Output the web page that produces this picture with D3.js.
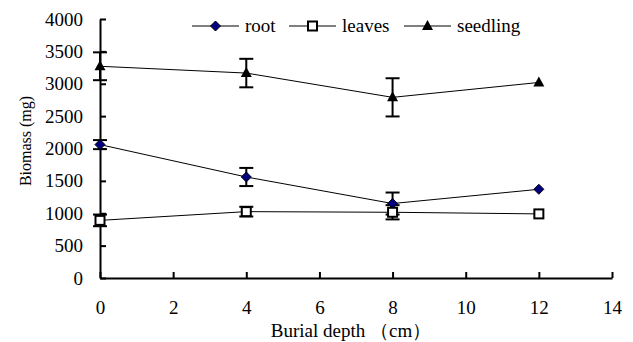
<!DOCTYPE html>
<html>
<head>
<meta charset="utf-8">
<script src="https://cdn.jsdelivr.net/npm/d3@7"></script>
<style>
  body { margin: 0; background: #fff; }
  text { font-family: "Liberation Serif", "Times New Roman", serif; fill: #000; }
</style>
</head>
<body>
<div id="chart"></div>
<script>
const depths = [0, 4, 8, 12];
const rootMean = [2060, 1560, 1150, 1370];
const rootErr = [70, 140, 170, 0];
const leavesMean = [890, 1025, 1015, 990];
const leavesErr = [90, 75, 110, 0];
const seedlingMean = [3270, 3165, 2790, 3020];
const seedlingErr = [215, 220, 295, 0];
const xTicks = [0, 2, 4, 6, 8, 10, 12, 14];
const yTicks = [0, 500, 1000, 1500, 2000, 2500, 3000, 3500, 4000];

const series = [
  {name: "root", mean: rootMean, err: rootErr, shape: "diamond"},
  {name: "leaves", mean: leavesMean, err: leavesErr, shape: "square"},
  {name: "seedling", mean: seedlingMean, err: seedlingErr, shape: "triangle"}
];

const W = 633, H = 342;
const margin = {top: 19, right: 21, bottom: 64, left: 100};
const width = W - margin.left - margin.right;
const height = H - margin.top - margin.bottom;
const serif = "'Liberation Serif', 'Times New Roman', serif";

const svg = d3.select("#chart").append("svg")
  .attr("width", W).attr("height", H);
const g = svg.append("g")
  .attr("transform", `translate(${margin.left},${margin.top})`);

const x = d3.scaleLinear().domain([0, 14]).range([0, width]);
const y = d3.scaleLinear().domain([0, 4000]).range([height, 0]);

// axes, ticks pointing inward
const xAxis = g.append("g")
  .attr("transform", `translate(0,${height})`)
  .call(d3.axisBottom(x).tickValues(xTicks).tickFormat(d3.format("d"))
    .tickSizeInner(-6).tickSizeOuter(0).tickPadding(23));
const yAxis = g.append("g")
  .call(d3.axisLeft(y).tickValues(yTicks).tickFormat(d3.format("d"))
    .tickSizeInner(-6).tickSizeOuter(0).tickPadding(17));
[xAxis, yAxis].forEach(a => {
  a.attr("font-family", serif).attr("font-size", 19);
  a.select(".domain").attr("stroke", "#000").attr("stroke-width", 2);
  a.selectAll(".tick line").attr("stroke", "#000").attr("stroke-width", 2);
  a.selectAll(".tick text").attr("fill", "#000");
});

// lines
const line = d3.line().x((d, i) => x(depths[i])).y(d => y(d));
series.forEach(s => {
  g.append("path").datum(s.mean)
    .attr("d", line).attr("fill", "none")
    .attr("stroke", "#000").attr("stroke-width", 1);
});

// error bars
series.forEach(s => {
  const eb = g.append("g");
  s.mean.forEach((m, i) => {
    if (!s.err[i]) return;
    const cx = x(depths[i]);
    const y1 = y(m + s.err[i]), y0 = y(m - s.err[i]);
    eb.append("line").attr("x1", cx).attr("x2", cx).attr("y1", y1).attr("y2", y0)
      .attr("stroke", "#000").attr("stroke-width", 2);
    [y1, y0].forEach(yy => eb.append("line")
      .attr("x1", cx - 7).attr("x2", cx + 7).attr("y1", yy).attr("y2", yy)
      .attr("stroke", "#000").attr("stroke-width", 2));
  });
});

function drawMarker(sel, shape, cx, cy) {
  if (shape === "diamond") {
    sel.append("path").attr("d", `M${cx},${cy - 5}L${cx + 5},${cy}L${cx},${cy + 5}L${cx - 5},${cy}Z`)
      .attr("fill", "#000080").attr("stroke", "#000").attr("stroke-width", 1);
  } else if (shape === "square") {
    sel.append("rect").attr("x", cx - 4.5).attr("y", cy - 4.5).attr("width", 9).attr("height", 9)
      .attr("fill", "#fff").attr("stroke", "#000").attr("stroke-width", 2);
  } else {
    sel.append("path").attr("d", `M${cx},${cy - 6}L${cx + 5.5},${cy + 4}L${cx - 5.5},${cy + 4}Z`)
      .attr("fill", "#000");
  }
}

series.forEach(s => {
  const mg = g.append("g");
  s.mean.forEach((m, i) => drawMarker(mg, s.shape, x(depths[i]), y(m)));
});

// axis titles
svg.append("text")
  .attr("transform", `translate(31,141) rotate(-90)`)
  .attr("text-anchor", "middle").style("font-size", "16px")
  .text("Biomass (mg)");
svg.append("text")
  .attr("x", 351).attr("y", 337)
  .attr("text-anchor", "middle").style("font-size", "19px")
  .text("Burial depth （cm）");

// legend
const legendX = [192, 289, 404];
const legend = svg.append("g");
series.forEach((s, i) => {
  const lx = legendX[i], ly = 26;
  legend.append("line").attr("x1", lx).attr("x2", lx + 47).attr("y1", ly).attr("y2", ly)
    .attr("stroke", "#000").attr("stroke-width", 1);
  drawMarker(legend, s.shape, lx + 23.5, ly);
  legend.append("text").attr("x", lx + 53).attr("y", ly + 6)
    .style("font-size", "19px").text(s.name);
});
</script>
</body>
</html>
